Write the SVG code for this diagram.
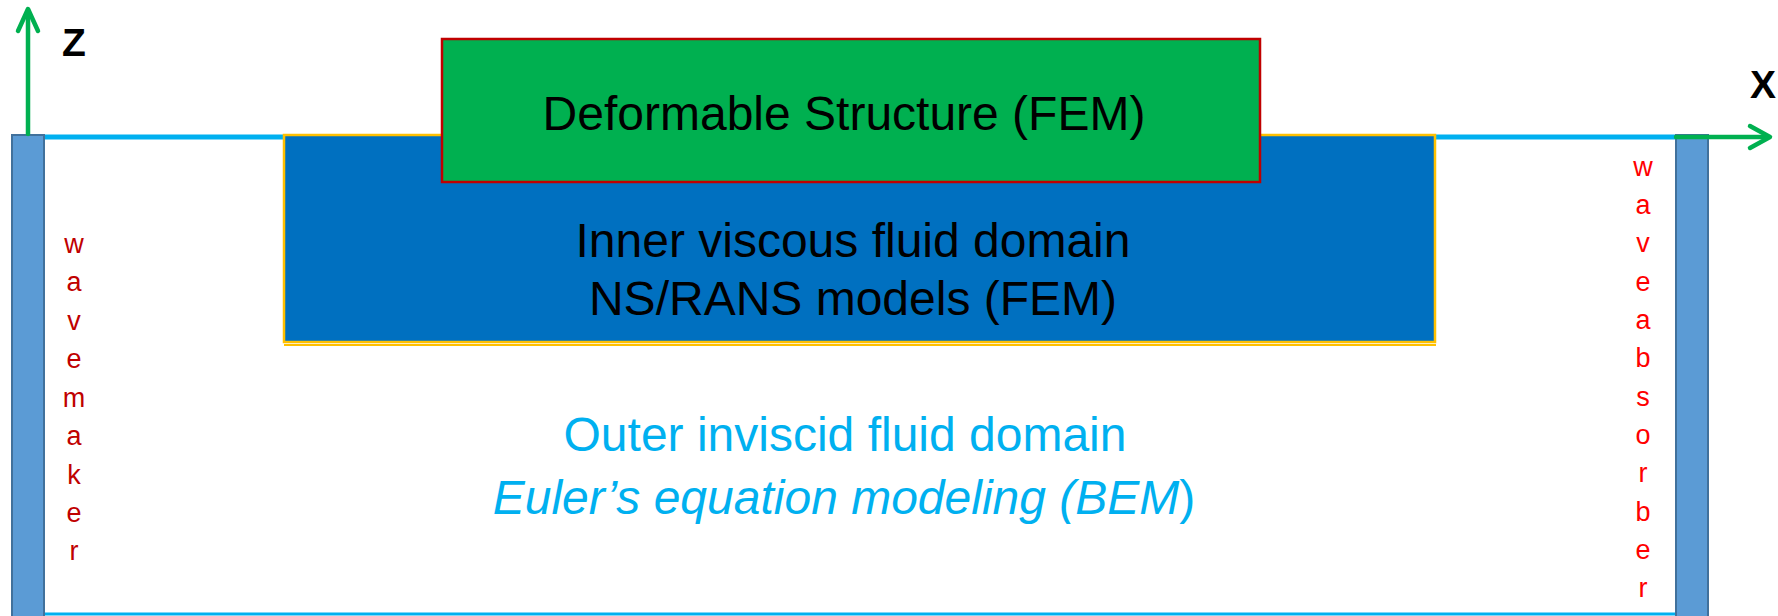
<svg xmlns="http://www.w3.org/2000/svg" width="1778" height="616" viewBox="0 0 1778 616">
<style>
.t{font-family:"Liberation Sans",Arial,sans-serif;font-size:48px;text-anchor:middle}
.ax{font-family:"Liberation Sans",Arial,sans-serif;font-size:39px;font-weight:bold;fill:#000}
.wall{fill:#5B9BD5;stroke:#41719C;stroke-width:2}
.surf{stroke:#00B0F0;fill:none}
.axis{stroke:#00B050;stroke-width:4.5;fill:none;stroke-linecap:round;stroke-linejoin:round}
.lt{font-family:"Liberation Sans",Arial,sans-serif;font-size:27px;text-anchor:middle}
</style>
<rect width="1778" height="616" fill="#fff"/>
<g id="surface">
<line class="surf" x1="44" y1="137" x2="284" y2="137" stroke-width="5"/>
<line class="surf" x1="1435" y1="137" x2="1676" y2="137" stroke-width="5"/>
<line class="surf" x1="44" y1="614" x2="1676" y2="614" stroke-width="3"/>
</g>
<g id="inner-domain">
<rect x="284" y="135" width="1151" height="207" fill="#0070C0" stroke="#FFC000" stroke-width="2.5"/>
<line x1="284" y1="345" x2="1436" y2="345" stroke="#FFC000" stroke-width="2"/>
<text class="t" x="853" y="257" fill="#000">Inner viscous fluid domain</text>
<text class="t" x="853" y="315" fill="#000">NS/RANS models (FEM)</text>
</g>
<g id="structure">
<rect x="442" y="39" width="818" height="143" fill="#00B050" stroke="#C00000" stroke-width="2.5"/>
<text class="t" x="844" y="130" fill="#000">Deformable Structure (FEM)</text>
</g>
<g id="outer-domain">
<text class="t" x="845" y="451" fill="#00B0F0">Outer inviscid fluid domain</text>
<text class="t" x="844" y="514" fill="#00B0F0"><tspan font-style="italic">Euler’s equation modeling (BEM</tspan>)</text>
</g>
<g id="wavemaker">
<rect class="wall" x="12" y="135" width="32" height="482"/>
<text class="lt" fill="#C00000" x="74"><tspan x="74" y="253">w</tspan><tspan x="74" y="291">a</tspan><tspan x="74" y="330">v</tspan><tspan x="74" y="368">e</tspan><tspan x="74" y="407">m</tspan><tspan x="74" y="445">a</tspan><tspan x="74" y="484">k</tspan><tspan x="74" y="522">e</tspan><tspan x="74" y="560">r</tspan></text>
</g>
<g id="waveabsorber">
<rect class="wall" x="1676" y="135" width="32" height="482"/>
<text class="lt" fill="#FF0000" x="1643"><tspan x="1643" y="176">w</tspan><tspan x="1643" y="214">a</tspan><tspan x="1643" y="252">v</tspan><tspan x="1643" y="291">e</tspan><tspan x="1643" y="329">a</tspan><tspan x="1643" y="367">b</tspan><tspan x="1643" y="406">s</tspan><tspan x="1643" y="444">o</tspan><tspan x="1643" y="482">r</tspan><tspan x="1643" y="521">b</tspan><tspan x="1643" y="559">e</tspan><tspan x="1643" y="597">r</tspan></text>
</g>
<g id="connectors">
<line class="axis" x1="28" y1="134" x2="28" y2="10"/>
<polyline class="axis" points="18,31 28,9 38,31"/>
<line class="axis" x1="1676" y1="137" x2="1768" y2="137"/>
<polyline class="axis" points="1750,126 1770,137 1750,148"/>
</g>
<g id="axis-labels">
<text class="ax" x="62" y="56">Z</text>
<text class="ax" x="1750" y="98">X</text>
</g>
</svg>
